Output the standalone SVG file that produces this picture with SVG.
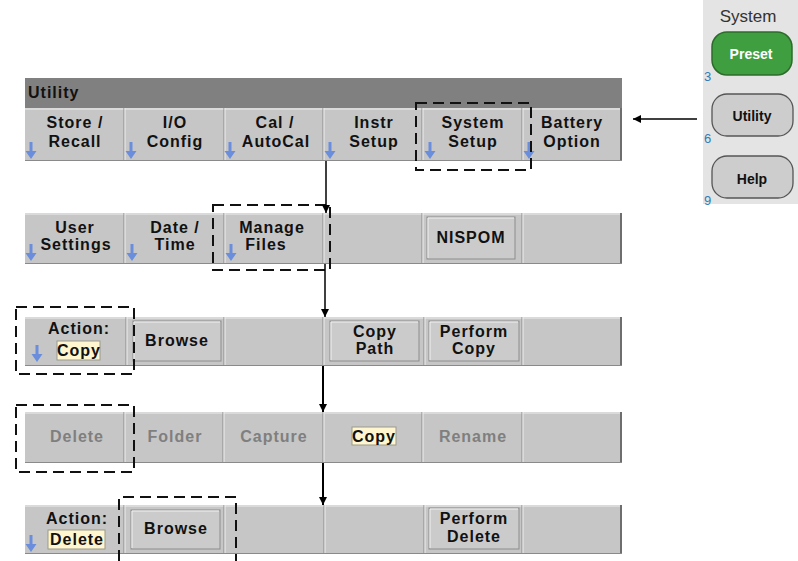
<svg xmlns="http://www.w3.org/2000/svg" xmlns:xlink="http://www.w3.org/1999/xlink" width="798" height="561" viewBox="0 0 798 561">
<style>
.row{fill:#c6c6c6;}
.sepL{stroke:#eeeeee;stroke-width:1;}
.sepD{stroke:#8a8a8a;stroke-width:1;}
.edge{fill:none;stroke:#6e6e6e;stroke-width:2;}
.lbl{font-family:"Liberation Sans",Arial,sans-serif;font-weight:bold;font-size:16px;letter-spacing:1px;fill:#111;text-anchor:middle;}
.gray{fill:#7f7f7f;}
.btn{fill:#cbcbcb;stroke:#8c8c8c;stroke-width:1;}
.btnhi{fill:none;stroke:#f2f2f2;stroke-width:1;}
.hl{fill:#fff6cf;stroke:#9a9a8a;stroke-width:1;}
.dash{fill:none;stroke:#111;stroke-width:2;stroke-dasharray:11,6;}
.conn{stroke:#000;fill:none;}
.blue{fill:#6a8edb;}
.num{font-family:"Liberation Sans",Arial,sans-serif;font-size:13px;fill:#2f7db8;}
.hw{font-family:"Liberation Sans",Arial,sans-serif;font-weight:bold;font-size:14px;text-anchor:middle;}
</style>
<defs>
<path id="ba" class="blue" d="M-1.5,-17 h3 v9 h4 l-5.5,8 l-5.5,-8 h4 z"/>
<marker id="ah" viewBox="0 0 10 10" refX="10" refY="5" markerWidth="8" markerHeight="8" markerUnits="userSpaceOnUse" orient="auto"><path d="M0,0 L10,5 L0,10 z" fill="#000"/></marker>
</defs>
<rect x="0" y="0" width="798" height="561" fill="#ffffff"/>

<!-- Right panel -->
<g id="panel">
<rect x="703" y="0" width="95" height="204" fill="#e4e4e4"/>
<text x="748" y="22" font-family="Liberation Sans, Arial, sans-serif" font-size="17" fill="#333" text-anchor="middle">System</text>
</g>
<g id="preset">
<rect x="712" y="32" width="80" height="43" rx="15" fill="#3f9e3f" stroke="#2c6b2c" stroke-width="1.5"/>
<text class="hw" x="751" y="59" fill="#ffffff">Preset</text>
<text class="num" x="704" y="81">3</text>
</g>
<g id="utility-key">
<rect x="712" y="94" width="81" height="42" rx="15" fill="#cdcdcd" stroke="#555" stroke-width="1.3"/>
<text class="hw" x="752" y="121" fill="#111">Utility</text>
<text class="num" x="704" y="143">6</text>
</g>
<g id="help-key">
<rect x="712" y="156" width="81" height="42" rx="15" fill="#cdcdcd" stroke="#555" stroke-width="1.3"/>
<text class="hw" x="752" y="184" fill="#111">Help</text>
<text class="num" x="704" y="205">9</text>
</g>

<!-- Row 1: Utility menu -->
<g id="row1">
<rect x="25" y="78" width="597" height="30" fill="#808080"/>
<text x="28" y="98" font-family="Liberation Sans, Arial, sans-serif" font-weight="bold" font-size="16" letter-spacing="1" fill="#111">Utility</text>
<rect class="row" x="25" y="108" width="597" height="52"/>
<line class="sepL" x1="25" y1="109" x2="622" y2="109"/>
<line class="sepD" x1="124" y1="108" x2="124" y2="160"/><line class="sepL" x1="125" y1="108" x2="125" y2="160"/>
<line class="sepD" x1="224" y1="108" x2="224" y2="160"/><line class="sepL" x1="225" y1="108" x2="225" y2="160"/>
<line class="sepD" x1="323" y1="108" x2="323" y2="160"/><line class="sepL" x1="324" y1="108" x2="324" y2="160"/>
<line class="sepD" x1="422" y1="108" x2="422" y2="160"/><line class="sepL" x1="423" y1="108" x2="423" y2="160"/>
<line class="sepD" x1="522" y1="108" x2="522" y2="160"/><line class="sepL" x1="523" y1="108" x2="523" y2="160"/>
<line class="edge" x1="621" y1="108" x2="621" y2="160"/>
<line class="sepD" x1="25" y1="160.5" x2="622" y2="160.5"/>
<text class="lbl" x="75" y="128">Store /</text><text class="lbl" x="75" y="147">Recall</text>
<text class="lbl" x="175" y="128">I/O</text><text class="lbl" x="175" y="147">Config</text>
<text class="lbl" x="275" y="128">Cal /</text><text class="lbl" x="276" y="147">AutoCal</text>
<text class="lbl" x="374" y="128">Instr</text><text class="lbl" x="374" y="147">Setup</text>
<text class="lbl" x="473" y="128">System</text><text class="lbl" x="473" y="147">Setup</text>
<text class="lbl" x="572" y="128">Battery</text><text class="lbl" x="572" y="147">Option</text>
<use href="#ba" x="31" y="159"/><use href="#ba" x="131" y="159"/><use href="#ba" x="230" y="159"/>
<use href="#ba" x="330" y="159"/><use href="#ba" x="430" y="159"/><use href="#ba" x="529" y="159"/>
</g>

<!-- Row 2 -->
<g id="row2">
<rect class="row" x="25" y="213" width="597" height="50"/>
<line class="sepL" x1="25" y1="214" x2="622" y2="214"/>
<line class="sepD" x1="124" y1="213" x2="124" y2="263"/><line class="sepL" x1="125" y1="213" x2="125" y2="263"/>
<line class="sepD" x1="224" y1="213" x2="224" y2="263"/><line class="sepL" x1="225" y1="213" x2="225" y2="263"/>
<line class="sepD" x1="323" y1="213" x2="323" y2="263"/><line class="sepL" x1="324" y1="213" x2="324" y2="263"/>
<line class="sepD" x1="422" y1="213" x2="422" y2="263"/><line class="sepL" x1="423" y1="213" x2="423" y2="263"/>
<line class="sepD" x1="522" y1="213" x2="522" y2="263"/><line class="sepL" x1="523" y1="213" x2="523" y2="263"/>
<line class="edge" x1="621" y1="213" x2="621" y2="263"/>
<line class="sepD" x1="25" y1="263.5" x2="622" y2="263.5"/>
<text class="lbl" x="75" y="233">User</text><text class="lbl" x="76" y="250">Settings</text>
<text class="lbl" x="175" y="233">Date /</text><text class="lbl" x="175" y="250">Time</text>
<text class="lbl" x="272" y="233">Manage</text><text class="lbl" x="266" y="250">Files</text>
<use href="#ba" x="31" y="261"/><use href="#ba" x="132" y="261"/><use href="#ba" x="231" y="261"/>
<rect class="btn" x="427" y="217" width="88" height="42"/>
<polyline class="btnhi" points="428,258 428,218 514,218"/>
<text class="lbl" x="471" y="243">NISPOM</text>
</g>

<!-- Row 3 -->
<g id="row3">
<rect class="row" x="25" y="317" width="597" height="48"/>
<line class="sepL" x1="25" y1="318" x2="622" y2="318"/>
<line class="sepD" x1="126" y1="317" x2="126" y2="365"/><line class="sepL" x1="127" y1="317" x2="127" y2="365"/>
<line class="sepD" x1="224" y1="317" x2="224" y2="365"/><line class="sepL" x1="225" y1="317" x2="225" y2="365"/>
<line class="sepD" x1="323" y1="317" x2="323" y2="365"/><line class="sepL" x1="324" y1="317" x2="324" y2="365"/>
<line class="sepD" x1="424" y1="317" x2="424" y2="365"/><line class="sepL" x1="425" y1="317" x2="425" y2="365"/>
<line class="sepD" x1="522" y1="317" x2="522" y2="365"/><line class="sepL" x1="523" y1="317" x2="523" y2="365"/>
<line class="edge" x1="621" y1="317" x2="621" y2="365"/>
<line class="sepD" x1="25" y1="365.5" x2="622" y2="365.5"/>
<text class="lbl" x="79" y="334">Action:</text>
<rect class="hl" x="57" y="341" width="43" height="19"/>
<text class="lbl" x="79" y="356">Copy</text>
<use href="#ba" x="37" y="362"/>
<rect class="btn" x="133" y="321" width="88" height="40"/>
<polyline class="btnhi" points="134,360 134,322 220,322"/>
<text class="lbl" x="177" y="346">Browse</text>
<rect class="btn" x="330" y="321" width="89" height="40"/>
<polyline class="btnhi" points="331,360 331,322 418,322"/>
<text class="lbl" x="375" y="337">Copy</text><text class="lbl" x="375" y="354">Path</text>
<rect class="btn" x="429" y="321" width="90" height="40"/>
<polyline class="btnhi" points="430,360 430,322 518,322"/>
<text class="lbl" x="474" y="337">Perform</text><text class="lbl" x="474" y="354">Copy</text>
</g>

<!-- Row 4 -->
<g id="row4">
<rect class="row" x="25" y="412" width="597" height="50"/>
<line class="sepL" x1="25" y1="413" x2="622" y2="413"/>
<line class="sepD" x1="124" y1="412" x2="124" y2="462"/><line class="sepL" x1="125" y1="412" x2="125" y2="462"/>
<line class="sepD" x1="223" y1="412" x2="223" y2="462"/><line class="sepL" x1="224" y1="412" x2="224" y2="462"/>
<line class="sepD" x1="323" y1="412" x2="323" y2="462"/><line class="sepL" x1="324" y1="412" x2="324" y2="462"/>
<line class="sepD" x1="422" y1="412" x2="422" y2="462"/><line class="sepL" x1="423" y1="412" x2="423" y2="462"/>
<line class="sepD" x1="522" y1="412" x2="522" y2="462"/><line class="sepL" x1="523" y1="412" x2="523" y2="462"/>
<line class="edge" x1="621" y1="412" x2="621" y2="462"/>
<line class="sepD" x1="25" y1="462.5" x2="622" y2="462.5"/>
<text class="lbl gray" x="77" y="442">Delete</text>
<text class="lbl gray" x="175" y="442">Folder</text>
<text class="lbl gray" x="274" y="442">Capture</text>
<rect class="hl" x="352" y="427" width="44" height="18"/>
<text class="lbl" x="374" y="442">Copy</text>
<text class="lbl gray" x="473" y="442">Rename</text>
</g>

<!-- Row 5 -->
<g id="row5">
<rect class="row" x="25" y="505" width="597" height="48"/>
<line class="sepL" x1="25" y1="506" x2="622" y2="506"/>
<line class="sepD" x1="124" y1="505" x2="124" y2="553"/><line class="sepL" x1="125" y1="505" x2="125" y2="553"/>
<line class="sepD" x1="224" y1="505" x2="224" y2="553"/><line class="sepL" x1="225" y1="505" x2="225" y2="553"/>
<line class="sepD" x1="324" y1="505" x2="324" y2="553"/><line class="sepL" x1="325" y1="505" x2="325" y2="553"/>
<line class="sepD" x1="424" y1="505" x2="424" y2="553"/><line class="sepL" x1="425" y1="505" x2="425" y2="553"/>
<line class="sepD" x1="522" y1="505" x2="522" y2="553"/><line class="sepL" x1="523" y1="505" x2="523" y2="553"/>
<line class="edge" x1="621" y1="505" x2="621" y2="553"/>
<line class="sepD" x1="25" y1="553.5" x2="622" y2="553.5"/>
<text class="lbl" x="77" y="524">Action:</text>
<rect class="hl" x="48" y="530" width="57" height="19"/>
<text class="lbl" x="77" y="545">Delete</text>
<use href="#ba" x="31" y="552"/>
<rect class="btn" x="131" y="510" width="89" height="39"/>
<polyline class="btnhi" points="132,548 132,511 219,511"/>
<text class="lbl" x="176" y="534">Browse</text>
<rect class="btn" x="429" y="508" width="90" height="41"/>
<polyline class="btnhi" points="430,548 430,509 518,509"/>
<text class="lbl" x="474" y="524">Perform</text><text class="lbl" x="474" y="542">Delete</text>
</g>

<!-- Dashed highlight boxes -->
<g id="highlights">
<rect class="dash" x="416" y="103" width="115" height="67"/>
<rect class="dash" x="213" y="205" width="117" height="65"/>
<rect class="dash" x="16" y="307" width="118" height="67"/>
<rect class="dash" x="16" y="405" width="118" height="67"/>
<path class="dash" d="M119,561 V497 H236 V561"/>
</g>

<!-- Connectors -->
<g id="connectors">
<line class="conn" x1="697" y1="119" x2="633" y2="119" stroke-width="1.5" marker-end="url(#ah)"/>
<line class="conn" x1="326" y1="161" x2="326" y2="213" stroke-width="1.5" marker-end="url(#ah)"/>
<line class="conn" x1="325" y1="264" x2="325" y2="317" stroke-width="1.5" marker-end="url(#ah)"/>
<line class="conn" x1="323" y1="366" x2="323" y2="412" stroke-width="2" marker-end="url(#ah)"/>
<line class="conn" x1="323" y1="463" x2="323" y2="505" stroke-width="2" marker-end="url(#ah)"/>
</g>
</svg>
